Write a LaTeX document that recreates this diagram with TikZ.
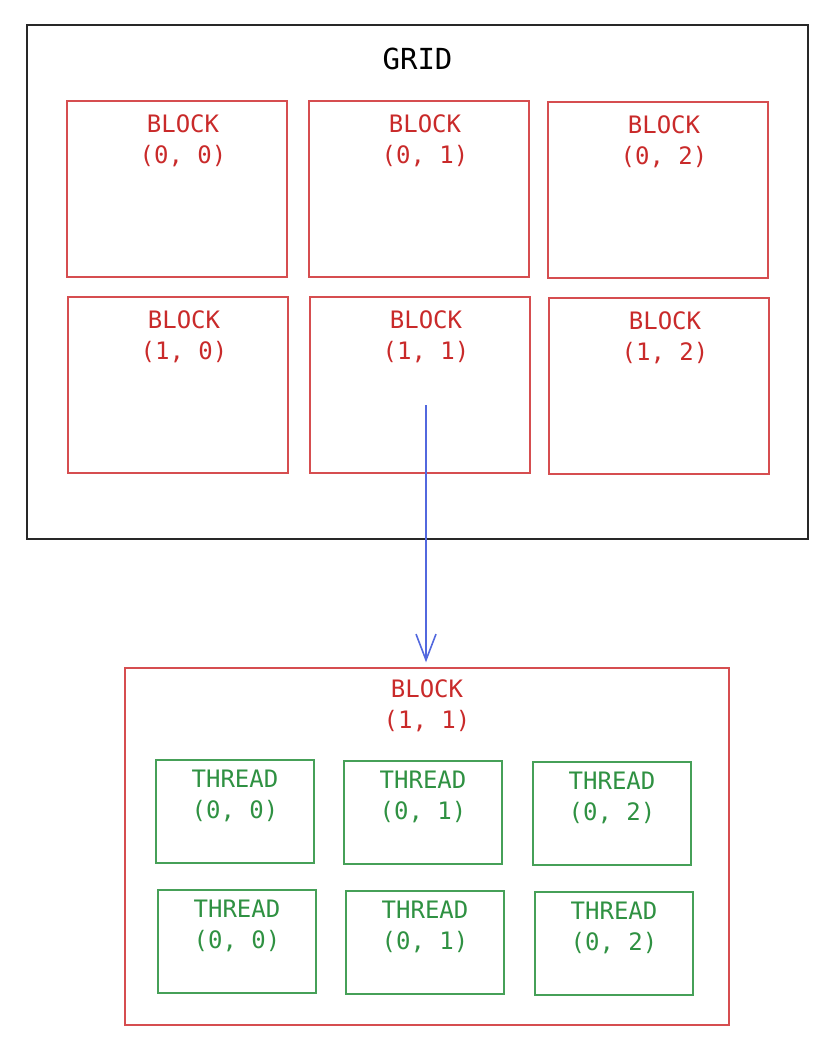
\documentclass[tikz,border=0pt]{standalone}
\usepackage{fontspec}
\usetikzlibrary{arrows.meta,positioning}
\newfontfamily\diagfont{DejaVu Sans Mono}
\definecolor{blockred}{RGB}{201,42,42}
\definecolor{blockline}{RGB}{214,78,80}
\definecolor{threadgreen}{RGB}{47,145,66}
\definecolor{threadline}{RGB}{70,160,88}
\definecolor{arrowblue}{RGB}{82,104,222}
\definecolor{gridline}{RGB}{40,40,40}

\tikzset{
	gridbox/.style={draw=gridline, line width=1.5pt, inner sep=0pt},
	blockbox/.style={draw=blockline, line width=1.4pt, inner sep=0pt, minimum width=220pt, minimum height=176pt},
	bigbox/.style={draw=blockline, line width=1.4pt, inner sep=0pt, minimum width=604pt, minimum height=357pt},
	threadbox/.style={draw=threadline, line width=1.4pt, inner sep=0pt, minimum width=158pt, minimum height=103pt},
	blocklabel/.style={text=blockred, anchor=north, inner sep=0pt, align=center, font=\diagfont\fontsize{24}{31}\selectfont},
	threadlabel/.style={text=threadgreen, anchor=north, inner sep=0pt, align=center, font=\diagfont\fontsize{24}{31}\selectfont},
	gridlabel/.style={text=black, anchor=north, inner sep=0pt, font=\diagfont\fontsize{29}{34}\selectfont},
	zoomarrow/.style={draw=arrowblue, line width=1.6pt, -{Straight Barb[length=26pt, width=20pt, line width=1.6pt]}}
}

\begin{document}
\begin{tikzpicture}[x=1pt, y=-1pt]
	\useasboundingbox (0,0) rectangle (828,1052);
	% the grid
	\node[gridbox, minimum width=781pt, minimum height=514pt] (grid) at (417.5,282) {};
	\node[gridlabel] (gridname) at ([yshift=-24pt]grid.north) {GRID};
	% blocks of the grid
	\foreach \r/\c/\x/\y in {0/0/177/189, 0/1/419/189, 0/2/658/190,
		1/0/178/385, 1/1/420/385, 1/2/659/386} {
		\node[blockbox] (b\r\c) at (\x,\y) {};
		\node[blocklabel] (b\r\c name) at ([xshift=6pt, yshift=-14pt]b\r\c.north) {BLOCK\\(\r, \c)};
	}
	% one block, zoomed in
	\node[bigbox] (big) at (427,846.5) {};
	\node[blocklabel] (bigname) at ([yshift=-12pt]big.north) {BLOCK\\(1, 1)};
	% threads of that block
	\foreach \r/\x/\y/\c in {0/235/811.5/0, 0/423/812.5/1, 0/612/813.5/2,
		1/237/941.5/0, 1/425/942.5/1, 1/614/943.5/2} {
		\node[threadbox] (t\r\c) at (\x,\y) {};
		\node[threadlabel] (t\r\c name) at ([yshift=-10pt]t\r\c.north) {THREAD\\(0, \c)};
	}
	\coordinate (zoomstart) at ([xshift=6pt, yshift=-20pt]b11.center);
	\coordinate (zoomend) at ([yshift=5pt]big.north);
	\draw[zoomarrow] (zoomstart) -- (zoomstart |- zoomend);
\end{tikzpicture}
\end{document}
